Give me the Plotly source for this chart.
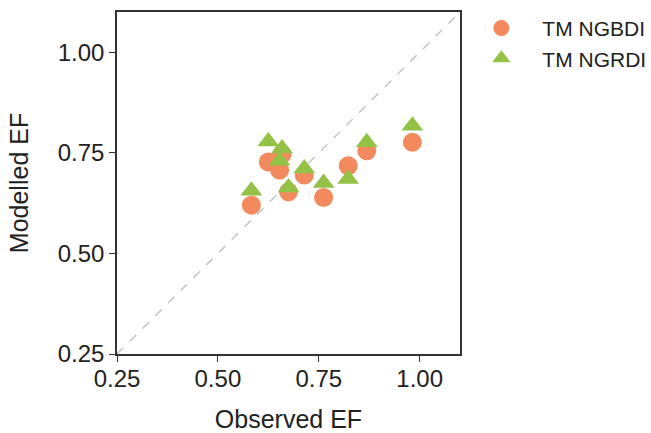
import plotly.graph_objects as go

observed = [0.583, 0.625, 0.659, 0.653, 0.675, 0.714, 0.762, 0.823, 0.869, 0.982]
ngbdi = [0.620, 0.727, 0.747, 0.707, 0.653, 0.695, 0.639, 0.718, 0.755, 0.776]
ngrdi = [0.656, 0.778, 0.761, 0.730, 0.664, 0.711, 0.675, 0.685, 0.776, 0.817]
tick_vals = [0.25, 0.50, 0.75, 1.00]
tick_text = ["0.25", "0.50", "0.75", "1.00"]
axis_range = [0.25, 1.1]

FONT = "Liberation Sans, Arial, sans-serif"

fig = go.Figure()
fig.add_trace(go.Scatter(
    x=axis_range, y=axis_range, mode="lines",
    line=dict(color="#bdbdbd", width=1.3, dash="dash"),
    showlegend=False, hoverinfo="skip"))
fig.add_trace(go.Scatter(
    x=observed, y=ngbdi, mode="markers", name="TM NGBDI",
    marker=dict(symbol="circle", size=19, color="#F28A5E", line=dict(width=0))))
fig.add_trace(go.Scatter(
    x=observed, y=ngrdi, mode="markers", name="TM NGRDI",
    marker=dict(symbol="triangle-up", size=19, color="#93C247", line=dict(width=0))))

axis_common = dict(
    range=axis_range, tickvals=tick_vals, ticktext=tick_text,
    showgrid=False, zeroline=False, showline=True, mirror=True,
    linecolor="#333333", linewidth=1.6, ticks="outside", ticklen=6,
    tickwidth=1.3, tickcolor="#333333",
    tickfont=dict(family=FONT, size=24, color="#222222"),
    title_font=dict(family=FONT, size=25, color="#222222"),
)

fig.update_layout(
    width=651, height=433,
    margin=dict(l=117, r=191, t=12, b=79, autoexpand=False),
    paper_bgcolor="white", plot_bgcolor="white",
    xaxis=dict(title=dict(text="Observed EF", standoff=23),
               ticklabelstandoff=-4, **axis_common),
    yaxis=dict(title=dict(text="Modelled EF", standoff=22), **axis_common),
    legend=dict(x=1.001, y=1.012, xanchor="left", yanchor="top",
                font=dict(family=FONT, size=21, color="#222222"),
                bgcolor="rgba(0,0,0,0)", itemwidth=72,
                tracegroupgap=0),
)

fig.write_html("out.html")
